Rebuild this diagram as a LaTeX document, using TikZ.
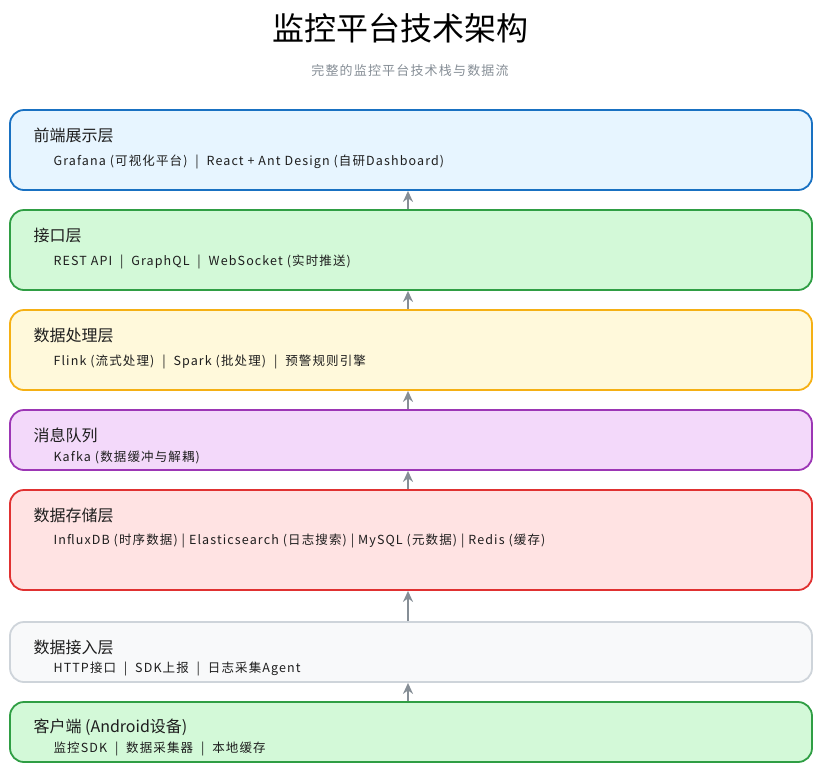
\documentclass[tikz,border=0pt]{standalone}
\usepackage{fontspec}
\setmainfont{Noto Sans CJK SC}
\newfontfamily\subfont{Noto Sans CJK SC}[LetterSpace=9]
\usetikzlibrary{positioning,arrows.meta}

\definecolor{bluestroke}{HTML}{1971C2}
\definecolor{bluefill}{HTML}{E7F5FF}
\definecolor{greenstroke}{HTML}{2F9E44}
\definecolor{greenfill}{HTML}{D3F9D8}
\definecolor{yellowstroke}{HTML}{F5B014}
\definecolor{yellowfill}{HTML}{FFF9DB}
\definecolor{purplestroke}{HTML}{9C36B5}
\definecolor{purplefill}{HTML}{F3D9FA}
\definecolor{redstroke}{HTML}{E03131}
\definecolor{redfill}{HTML}{FFE3E3}
\definecolor{graystroke}{HTML}{CED4DA}
\definecolor{grayfill}{HTML}{F8F9FA}
\definecolor{arrowgray}{HTML}{868E96}
\definecolor{textdark}{HTML}{1E1E1E}

\tikzset{
  layer/.style={draw, line width=1.8pt, rounded corners=14pt, minimum width=802pt, inner sep=0pt},
  ltitle/.style={anchor=west, font=\fontsize{16}{18}\selectfont, text=textdark},
  lsub/.style={anchor=west, font=\subfont\fontsize{12.5}{14}\selectfont, text=textdark},
  uplink/.style={draw=arrowgray, line width=2pt, -{Stealth[length=11pt,width=10pt]}}
}

\begin{document}
\begin{tikzpicture}[x=1pt,y=-1pt]
  \useasboundingbox (0,0) rectangle (821,772);

  % title
  \node (title) at (400,28) {\fontsize{32}{36}\selectfont 监控平台技术架构};
  \node[text=arrowgray] (subtitle) at (410,71) {\subfont\fontsize{13}{15}\selectfont 完整的监控平台技术栈与数据流};

  % layers
  \node[layer, draw=bluestroke, fill=bluefill, minimum height=80pt] (front) at (411,150) {};
  \node[layer, draw=greenstroke, fill=greenfill, minimum height=80pt] (api) at (411,250) {};
  \node[layer, draw=yellowstroke, fill=yellowfill, minimum height=80pt] (proc) at (411,350) {};
  \node[layer, draw=purplestroke, fill=purplefill, minimum height=60pt] (mq) at (411,440) {};
  \node[layer, draw=redstroke, fill=redfill, minimum height=100pt] (store) at (411,540) {};
  \node[layer, draw=graystroke, fill=grayfill, minimum height=60pt] (ingest) at (411,652) {};
  \node[layer, draw=greenstroke, fill=greenfill, minimum height=60pt] (client) at (411,732) {};

  % labels
  \node[ltitle] at (30,135) {前端展示层};
  \node[lsub] at (50,162) {Grafana (可视化平台)\ \ |\ \ React + Ant Design (自研Dashboard)};
  \node[ltitle] at (30,235) {接口层};
  \node[lsub] at (50,262) {REST API\ \ |\ \ GraphQL\ \ |\ \ WebSocket (实时推送)};
  \node[ltitle] at (30,335) {数据处理层};
  \node[lsub] at (50,362) {Flink (流式处理)\ \ |\ \ Spark (批处理)\ \ |\ \ 预警规则引擎};
  \node[ltitle] at (30,435) {消息队列};
  \node[lsub] at (50,457) {Kafka (数据缓冲与解耦)};
  \node[ltitle] at (30,515) {数据存储层};
  \node[lsub] at (50,541) {InfluxDB (时序数据) | Elasticsearch (日志搜索) | MySQL (元数据) | Redis (缓存)};
  \node[ltitle] at (30,647) {数据接入层};
  \node[lsub] at (50,669) {HTTP接口\ \ |\ \ SDK上报\ \ |\ \ 日志采集Agent};
  \node[ltitle] at (30,727) {客户端 (Android设备)};
  \node[lsub] at (50,749) {监控SDK\ \ |\ \ 数据采集器\ \ |\ \ 本地缓存};

  % data flow
  \draw[uplink] (api.north -| 408,0) -- (front.south -| 408,0);
  \draw[uplink] (proc.north -| 408,0) -- (api.south -| 408,0);
  \draw[uplink] (mq.north -| 408,0) -- (proc.south -| 408,0);
  \draw[uplink] (store.north -| 408,0) -- (mq.south -| 408,0);
  \draw[uplink] (ingest.north -| 408,0) -- (store.south -| 408,0);
  \draw[uplink] (client.north -| 408,0) -- (ingest.south -| 408,0);

\end{tikzpicture}
\end{document}
